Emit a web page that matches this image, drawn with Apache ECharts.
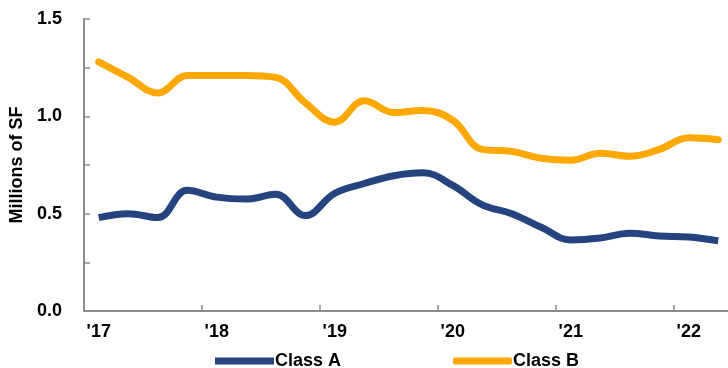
<!DOCTYPE html>
<html>
<head>
<meta charset="utf-8">
<script src="https://cdn.jsdelivr.net/npm/echarts@6/dist/echarts.min.js"></script>
<style>
  html, body { margin: 0; padding: 0; background: #ffffff; }
  #chart { width: 728px; height: 368px; }
</style>
</head>
<body>
<div id="chart"></div>
<script>
// Quarterly office absorption, millions of square feet
const quarters = [
  "2017 Q1", "2017 Q2", "2017 Q3", "2017 Q4",
  "2018 Q1", "2018 Q2", "2018 Q3", "2018 Q4",
  "2019 Q1", "2019 Q2", "2019 Q3", "2019 Q4",
  "2020 Q1", "2020 Q2", "2020 Q3", "2020 Q4",
  "2021 Q1", "2021 Q2", "2021 Q3", "2021 Q4",
  "2022 Q1", "2022 Q2"
];
const yearLabels = ["'17", "'18", "'19", "'20", "'21", "'22"];
const classA = [
  0.48, 0.50, 0.48, 0.62,
  0.585, 0.575, 0.60, 0.49,
  0.605, 0.655, 0.695, 0.71,
  0.645, 0.545, 0.50, 0.43,
  0.365, 0.375, 0.40, 0.385,
  0.38, 0.36
];
const classB = [
  1.28, 1.20, 1.12, 1.21,
  1.21, 1.21, 1.20, 1.07,
  0.97, 1.08, 1.02, 1.03,
  0.98, 0.83, 0.82, 0.785,
  0.775, 0.81, 0.795, 0.83,
  0.89, 0.88
];

const FONT = "'Liberation Sans', Arial, sans-serif";
const AXIS_GREY = '#8c8c8c';

const chart = echarts.init(document.getElementById('chart'), null, { renderer: 'canvas' });
chart.setOption({
  animation: false,
  backgroundColor: '#ffffff',
  grid: { left: 84, right: -5, top: 19, bottom: 57, containLabel: false, outerBoundsMode: 'none' },
  legend: {
    bottom: -2,
    left: 215,
    padding: 0,
    itemWidth: 59,
    itemHeight: 7,
    itemGap: 112,
    textStyle: { fontFamily: FONT, fontWeight: 'bold', fontSize: 18, color: '#000', padding: [0, 0, 0, -4] },
    data: [
      { name: 'Class A', icon: 'rect' },
      { name: 'Class B', icon: 'roundRect' }
    ]
  },
  xAxis: {
    type: 'category',
    data: quarters,
    boundaryGap: true,
    axisLine: { lineStyle: { color: AXIS_GREY, width: 2 } },
    axisTick: {
      show: true,
      inside: true,
      length: 6,
      lineStyle: { color: AXIS_GREY, width: 1.5 },
      interval: function (i) { return i % 4 === 0; }
    },
    axisLabel: {
      interval: function (i) { return i % 4 === 0; },
      formatter: function (v, i) { return yearLabels[Math.floor(i / 4)]; },
      margin: 12,
      fontFamily: FONT,
      fontWeight: 'bold',
      fontSize: 18,
      color: '#000'
    },
    splitLine: { show: false }
  },
  yAxis: {
    type: 'value',
    min: 0,
    max: 1.5,
    interval: 0.25,
    name: 'Millions of SF',
    nameLocation: 'middle',
    nameGap: 57,
    nameTextStyle: { fontFamily: FONT, fontWeight: 'bold', fontSize: 18, color: '#000' },
    axisLine: { show: true, lineStyle: { color: AXIS_GREY, width: 2 } },
    axisTick: { show: true, inside: true, length: 6, lineStyle: { color: AXIS_GREY, width: 1.5 } },
    axisLabel: {
      margin: 22,
      fontFamily: FONT,
      fontWeight: 'bold',
      fontSize: 18,
      color: '#000',
      formatter: function (v) {
        return Math.abs(v * 2 - Math.round(v * 2)) < 1e-6 ? v.toFixed(1) : '';
      }
    },
    splitLine: { show: false }
  },
  series: [
    {
      name: 'Class A',
      type: 'line',
      data: classA,
      smooth: 0.4,
      symbol: 'none',
      color: '#24437f',
      lineStyle: { width: 7, color: '#24437f', cap: 'butt' }
    },
    {
      name: 'Class B',
      type: 'line',
      data: classB,
      smooth: 0.4,
      symbol: 'none',
      color: '#fca800',
      lineStyle: { width: 7, color: '#fca800', cap: 'round' }
    }
  ]
});
</script>
</body>
</html>
